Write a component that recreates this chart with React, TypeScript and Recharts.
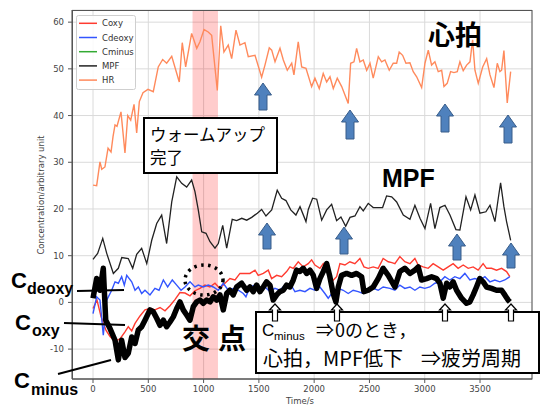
import { CartesianGrid, Line, LineChart, ReferenceArea, XAxis, YAxis } from "recharts";

// HR (heart rate), sampled roughly every 30 s
const hrTime = [0, 33, 63, 79, 108, 136, 163, 181, 199, 217, 253, 289, 314, 341, 371, 395, 419, 452, 497, 545, 590, 630, 666, 712, 780, 807, 838, 892, 938, 967, 1004, 1042, 1073, 1124, 1155, 1184, 1223, 1254, 1293, 1329, 1374, 1404, 1465, 1525, 1555, 1594, 1616, 1646, 1691, 1721, 1757, 1797, 1817, 1856, 1887, 1926, 1977, 2007, 2046, 2082, 2113, 2143, 2173, 2209, 2249, 2308, 2330, 2360, 2384, 2414, 2444, 2475, 2505, 2534, 2580, 2610, 2640, 2679, 2715, 2746, 2769, 2800, 2830, 2866, 2896, 2927, 2972, 3002, 3032, 3062, 3092, 3122, 3153, 3174, 3203, 3234, 3264, 3294, 3318, 3348, 3379, 3409, 3433, 3454, 3484, 3524, 3560, 3590, 3626, 3656, 3680, 3695, 3716, 3746, 3777];
const hrValue = [25.1, 25.0, 30.1, 28.5, 29.0, 33.0, 32.2, 35.5, 38.0, 37.7, 40.8, 32.0, 40.0, 39.0, 42.4, 36.3, 43.0, 44.9, 45.6, 45.1, 50.4, 52.0, 51.2, 52.7, 47.2, 55.6, 50.4, 57.6, 54.4, 55.8, 58.4, 57.9, 57.2, 45.4, 59.2, 53.6, 55.1, 52.2, 58.3, 55.1, 55.6, 52.6, 52.9, 48.2, 50.8, 54.5, 54.0, 51.5, 54.4, 51.9, 49.7, 51.2, 48.7, 55.8, 50.4, 50.1, 46.2, 48.0, 45.8, 49.0, 47.2, 48.3, 45.8, 48.0, 46.2, 42.6, 51.2, 51.5, 54.4, 51.5, 51.9, 49.7, 51.2, 48.0, 52.6, 51.5, 51.9, 49.7, 51.2, 51.2, 53.6, 52.9, 51.2, 51.3, 49.4, 48.3, 46.0, 51.2, 54.0, 50.8, 51.5, 49.4, 49.7, 46.2, 46.9, 49.4, 49.2, 49.4, 51.5, 49.6, 50.8, 51.5, 56.2, 49.7, 46.9, 50.4, 52.2, 48.7, 46.0, 51.2, 49.4, 49.7, 53.9, 42.7, 49.4];

// MPF (mean power frequency)
const mpfTime = [0, 42, 88, 124, 184, 229, 260, 319, 359, 395, 440, 486, 531, 576, 621, 666, 712, 757, 802, 847, 892, 922, 952, 983, 1022, 1058, 1103, 1133, 1173, 1209, 1259, 1299, 1345, 1390, 1435, 1486, 1525, 1564, 1616, 1666, 1706, 1745, 1788, 1835, 1872, 1926, 1947, 1986, 2023, 2068, 2113, 2158, 2203, 2242, 2285, 2324, 2369, 2414, 2444, 2489, 2534, 2580, 2619, 2655, 2701, 2746, 2806, 2866, 2911, 2957, 3002, 3053, 3092, 3137, 3183, 3228, 3282, 3318, 3373, 3415, 3454, 3499, 3553, 3590, 3635, 3665, 3686, 3716, 3740, 3777];
const mpfValue = [9.2, 10.5, 13.7, 10.5, 6.2, 7.3, 9.6, 9.4, 7.3, 10.3, 11.6, 8.3, 13.3, 16.9, 18.7, 12.6, 21.5, 26.9, 25.5, 24.7, 26.2, 23.7, 19.8, 15.1, 14.8, 13.0, 11.6, 12.6, 16.5, 11.6, 17.8, 17.5, 18.0, 17.6, 18.2, 19.1, 19.9, 18.5, 19.8, 24.0, 22.3, 21.8, 19.8, 18.7, 20.5, 17.3, 19.9, 22.3, 22.1, 17.6, 19.8, 21.0, 17.5, 18.3, 16.3, 18.2, 18.5, 20.5, 19.6, 21.2, 20.3, 20.3, 20.3, 22.8, 22.6, 21.5, 18.7, 17.8, 20.8, 18.0, 15.8, 21.2, 15.8, 20.3, 20.8, 18.7, 15.6, 15.5, 22.6, 19.8, 23.0, 19.1, 19.4, 20.8, 17.3, 22.3, 25.6, 20.5, 17.3, 13.3];

// Cdeoxy
const deoxyTime = [0, 33, 63, 93, 124, 169, 199, 229, 259, 283, 305, 350, 380, 410, 440, 470, 515, 560, 597, 636, 675, 717, 757, 796, 832, 877, 922, 952, 997, 1042, 1088, 1133, 1178, 1223, 1268, 1314, 1359, 1383, 1419, 1465, 1510, 1555, 1600, 1645, 1690, 1736, 1781, 1826, 1871, 1917, 1962, 2007, 2052, 2097, 2127, 2172, 2218, 2263, 2308, 2353, 2398, 2444, 2489, 2534, 2579, 2624, 2685, 2730, 2775, 2820, 2866, 2911, 2956, 3001, 3046, 3092, 3137, 3182, 3227, 3272, 3318, 3363, 3408, 3453, 3498, 3544, 3589, 3634, 3679, 3724, 3769];
const deoxyValue = [-2.4, 1.2, 0.5, -7.0, 0.5, 2.6, 4.4, 4.1, 5.5, 3.7, 5.8, 4.4, 2.6, 3.3, 1.9, 2.6, 1.6, 3.0, 2.6, 4.8, 3.3, 4.8, 3.7, 2.6, 3.3, 4.4, 3.3, 3.7, 3.3, 3.7, 3.3, 2.6, 4.1, 2.6, 3.0, 2.6, 1.9, 1.2, 3.3, 3.7, 2.6, 3.3, 2.3, 3.0, 2.6, 3.7, 4.1, 2.3, 2.6, 2.3, 3.0, 2.6, 3.3, 1.9, 0.9, 2.3, 3.0, 2.6, 1.9, 2.6, 2.3, 1.9, 2.6, 3.0, 2.6, 3.3, 3.0, 2.6, 3.7, 3.0, 3.3, 2.6, 3.3, 3.0, 3.3, 4.1, 4.4, 5.5, 4.8, 5.5, 5.1, 6.2, 4.8, 5.1, 4.8, 5.5, 4.4, 4.8, 4.4, 4.8, 5.5];

// Coxy
const oxyTime = [0, 36, 72, 118, 154, 199, 244, 289, 319, 350, 380, 425, 470, 515, 560, 606, 651, 696, 741, 786, 832, 877, 922, 967, 1012, 1057, 1103, 1148, 1193, 1238, 1284, 1329, 1374, 1419, 1465, 1494, 1540, 1585, 1615, 1661, 1706, 1751, 1781, 1811, 1856, 1901, 1946, 1977, 2007, 2052, 2082, 2113, 2158, 2203, 2233, 2278, 2323, 2368, 2414, 2450, 2489, 2534, 2579, 2624, 2670, 2703, 2730, 2775, 2820, 2866, 2911, 2941, 2986, 3031, 3076, 3122, 3167, 3212, 3257, 3302, 3348, 3393, 3438, 3483, 3528, 3559, 3604, 3649, 3695, 3740, 3770];
const oxyValue = [-1.3, 0.5, -3.0, -6.0, -7.3, -8.3, -7.8, -6.3, -5.2, -6.1, -4.5, -2.9, -1.6, -1.3, -1.6, -1.1, -1.8, -0.7, 0.6, 2.1, 2.0, 1.4, 2.5, 3.0, 3.7, 3.3, 4.1, 3.0, 4.1, 5.1, 4.8, 6.2, 6.2, 6.2, 6.9, 5.8, 6.2, 6.9, 5.1, 5.8, 5.5, 6.6, 7.6, 7.3, 8.7, 7.6, 8.3, 9.1, 8.0, 7.3, 8.3, 6.9, 4.4, 5.5, 8.3, 8.0, 8.7, 8.3, 9.4, 7.6, 7.3, 7.6, 7.3, 9.4, 8.7, 8.5, 8.3, 9.8, 8.7, 8.3, 9.4, 8.0, 7.6, 7.3, 8.3, 7.6, 6.9, 7.6, 8.3, 7.3, 8.0, 7.3, 7.6, 6.9, 8.3, 7.3, 7.3, 6.9, 7.3, 6.6, 5.5];

// Cminus (traced over with a thick black pen in the source figure)
const minusTime = [0, 33, 63, 93, 115, 154, 199, 229, 259, 289, 319, 350, 380, 410, 440, 470, 515, 545, 576, 606, 636, 666, 696, 726, 757, 786, 816, 847, 877, 907, 937, 967, 997, 1028, 1058, 1088, 1118, 1148, 1178, 1209, 1238, 1268, 1299, 1344, 1389, 1419, 1449, 1480, 1510, 1540, 1570, 1600, 1630, 1661, 1690, 1720, 1751, 1781, 1811, 1841, 1871, 1901, 1932, 1962, 1992, 2022, 2052, 2082, 2113, 2142, 2172, 2197, 2218, 2248, 2293, 2339, 2384, 2429, 2450, 2489, 2534, 2579, 2624, 2670, 2730, 2775, 2820, 2866, 2911, 2941, 2971, 3017, 3062, 3107, 3137, 3167, 3198, 3227, 3257, 3288, 3333, 3378, 3408, 3438, 3468, 3498, 3528, 3559, 3604, 3649, 3695, 3724, 3754, 3770];
const minusValue = [0.9, 5.1, 2.6, 7.3, -3.8, -5.6, -8.1, -12.3, -8.1, -11.8, -10.9, -7.4, -8.8, -5.9, -5.2, -3.8, -1.6, -2.0, -3.4, -4.9, -3.8, -5.2, -4.2, -3.1, -1.3, 0.1, -1.6, -2.7, -3.8, -0.9, 0.1, 0.5, -0.2, 0.5, 0.1, 1.2, 0.5, 1.6, -1.6, 1.9, 2.6, 1.6, 3.3, 4.1, 2.6, 3.3, 2.3, 3.7, 2.3, 3.3, 4.4, 3.7, 0.5, 1.6, 2.3, 2.6, 3.7, 3.3, 4.8, 6.9, 6.6, 7.3, 6.2, 6.9, 5.8, 3.0, 5.1, 6.6, 8.3, 5.5, 1.9, 0.1, 3.3, 5.8, 6.2, 5.8, 6.2, 5.5, 2.3, 2.6, 3.3, 5.1, 7.3, 5.8, 3.3, 6.6, 7.3, 6.2, 6.9, 7.6, 4.8, 5.1, 5.5, 5.1, 4.1, 0.9, 4.1, 3.3, 4.4, 2.6, 0.9, -0.2, 0.1, 1.6, 3.3, 5.1, 4.4, 3.3, 3.0, 2.6, 2.6, 1.6, 0.5, 0.1];

const xTicks = [0, 500, 1000, 1500, 2000, 2500, 3000, 3500];
const yTicks = [-10, 0, 10, 20, 30, 40, 50, 60];
const warmup = [900, 1130];

const legendItems = [
  { name: "Coxy", color: "#ff3b30" },
  { name: "Cdeoxy", color: "#3355ff" },
  { name: "Cminus", color: "#33aa33" },
  { name: "MPF", color: "#222222" },
  { name: "HR", color: "#ff8a5c" },
];

const zip = (ts: number[], vs: number[]) => ts.map((t, i) => ({ t, v: vs[i] }));

const tickStyle = { fontSize: 8.5, fill: "#444", fontFamily: "DejaVu Sans" };
const jp = "'Noto Sans CJK JP', sans-serif";
const latinBold = "'Liberation Sans', Arial, sans-serif";

const upArrow = (cx: number, top: number, bottom: number, headW: number, shaftW: number, headH: number) =>
  `M${cx},${top} L${cx + headW / 2},${top + headH} L${cx + shaftW / 2},${top + headH} L${cx + shaftW / 2},${bottom} ` +
  `L${cx - shaftW / 2},${bottom} L${cx - shaftW / 2},${top + headH} L${cx - headW / 2},${top + headH} Z`;

const blueArrows = [
  [263, 83, 110], [350, 110, 139], [445, 104, 132], [508, 115, 143],
  [267, 223, 249], [344, 227, 254], [457, 234, 260], [511, 243, 268],
];
const whiteArrows = [275, 337, 445, 511];

function Overlay() {
  return (
    <svg width={541} height={409} style={{ position: "absolute", left: 0, top: 0, pointerEvents: "none" }}>
      {/* axes frame */}
      <rect x={72.5} y={10.5} width={459.5} height={368.5} fill="none" stroke="#555" strokeWidth={1} />

      {/* legend */}
      <rect x={76.5} y={15.5} width={59} height={74} rx={2} fill="#fff" fillOpacity={0.85} stroke="#cfcfcf" />
      {legendItems.map((item, i) => (
        <g key={item.name}>
          <line x1={79} x2={97} y1={23.3 + i * 14.2} y2={23.3 + i * 14.2} stroke={item.color} strokeWidth={1.5} />
          <text x={102} y={26.3 + i * 14.2} fontSize={8.5} fontFamily="DejaVu Sans" fill="#333">
            {item.name}
          </text>
        </g>
      ))}

      {/* axis titles */}
      <text x={300} y={404} textAnchor="middle" fontSize={8.5} fontFamily="DejaVu Sans" fill="#444">
        Time/s
      </text>
      <text x={44} y={195} transform="rotate(-90 44 195)" textAnchor="middle" fontSize={8.5} fontFamily="DejaVu Sans" fill="#444">
        Concentration/arbitrary unit
      </text>

      {/* big labels */}
      <text x={428} y={45} fontSize={27} fontWeight={700} fontFamily={jp} fill="#000">心拍</text>
      <text x={382} y={187} fontSize={25} fontWeight={700} fontFamily={latinBold} fill="#000">MPF</text>
      <text x={182} y={349} fontSize={28} fontWeight={700} fontFamily={jp} letterSpacing={8} fill="#000">交点</text>

      {/* warm-up box */}
      <rect x={144} y={118} width={133} height={55} fill="#fff" stroke="#000" strokeWidth={2} />
      <text x={150} y={141} fontSize={16.5} fontFamily={jp} fill="#000">ウォームアップ</text>
      <text x={150} y={164} fontSize={16.5} fontFamily={jp} fill="#000">完了</text>

      {/* series labels with pointers */}
      <line x1={77} y1={291} x2={124} y2={290} stroke="#000" strokeWidth={2} />
      <line x1={64} y1={323} x2={125} y2={325} stroke="#000" strokeWidth={2} />
      <line x1={58} y1={374} x2={111} y2={360} stroke="#000" strokeWidth={2} />
      <text x={11} y={288} fontSize={22} fontWeight={700} fontFamily={latinBold} fill="#000">C</text>
      <text x={27} y={294} fontSize={16} fontWeight={700} fontFamily={latinBold} fill="#000">deoxy</text>
      <text x={15} y={330} fontSize={22} fontWeight={700} fontFamily={latinBold} fill="#000">C</text>
      <text x={32} y={336} fontSize={16} fontWeight={700} fontFamily={latinBold} fill="#000">oxy</text>
      <text x={14} y={388} fontSize={22} fontWeight={700} fontFamily={latinBold} fill="#000">C</text>
      <text x={31} y={395} fontSize={16} fontWeight={700} fontFamily={latinBold} fill="#000">minus</text>

      {/* dotted circle at crossing */}
      <ellipse cx={204} cy={280} rx={19} ry={15} fill="none" stroke="#000" strokeWidth={3.5} strokeDasharray="2.5 4.5" />

      {/* conclusion box */}
      <rect x={256} y={312} width={283} height={61} fill="#fff" stroke="#000" strokeWidth={2} />
      <text x={262} y={336} fontSize={17} fontFamily="'Liberation Sans', sans-serif" fill="#000">C</text>
      <text x={274} y={340} fontSize={11.5} fontFamily="'Liberation Sans', sans-serif" fill="#000">minus</text>
      <text x={316} y={337} fontSize={18} fontFamily={jp} fill="#000">⇒</text>
      <text x={335} y={337} fontSize={18} fontFamily={jp} fill="#000">0のとき，</text>
      <text x={263} y={366} fontSize={20} fontFamily={jp} fill="#000">心拍，MPF低下</text>
      <text x={421} y={366} fontSize={20} fontFamily={jp} fill="#000">⇒疲労周期</text>

      {whiteArrows.map((cx) => (
        <path key={cx} d={upArrow(cx, 304, 321, 11, 5, 6)} fill="#fff" stroke="#000" strokeWidth={1.2} />
      ))}
      {blueArrows.map(([cx, top, bottom]) => (
        <path key={`${cx}-${top}`} d={upArrow(cx, top, bottom, 17, 8, 12)} fill="#4f81bd" stroke="#385d8a" strokeWidth={1} />
      ))}
    </svg>
  );
}

export default function App() {
  return (
    <div style={{ position: "absolute", left: 0, top: 0, width: 541, height: 409, background: "#fff" }}>
      <LineChart width={541} height={409} margin={{ top: 10, right: 9, bottom: 0, left: 0 }}>
        <CartesianGrid stroke="#dadada" strokeWidth={1} />
        <XAxis
          type="number"
          dataKey="t"
          domain={[-190, 3970]}
          ticks={xTicks}
          allowDataOverflow
          height={30}
          tick={tickStyle}
          tickSize={4}
          tickMargin={3}
          stroke="#555"
        />
        <YAxis
          type="number"
          domain={[-16.4, 62.6]}
          ticks={yTicks}
          allowDataOverflow
          width={72}
          tick={tickStyle}
          tickSize={4}
          tickMargin={4}
          stroke="#555"
        />
        <ReferenceArea x1={warmup[0]} x2={warmup[1]} fill="#ff0000" fillOpacity={0.2} stroke="none" ifOverflow="hidden" />
        <Line data={zip(hrTime, hrValue)} dataKey="v" name="HR" stroke="#ff8a5c" strokeWidth={1.4} dot={false} isAnimationActive={false} />
        <Line data={zip(mpfTime, mpfValue)} dataKey="v" name="MPF" stroke="#222" strokeWidth={1.3} dot={false} isAnimationActive={false} />
        <Line data={zip(oxyTime, oxyValue)} dataKey="v" name="Coxy" stroke="#ff3b30" strokeWidth={1.4} dot={false} isAnimationActive={false} />
        <Line data={zip(deoxyTime, deoxyValue)} dataKey="v" name="Cdeoxy" stroke="#3355ff" strokeWidth={1.4} dot={false} isAnimationActive={false} />
        <Line data={zip(minusTime, minusValue)} dataKey="v" name="Cminus" stroke="#000" strokeWidth={5.5} strokeLinejoin="round" dot={false} isAnimationActive={false} />
      </LineChart>
      <Overlay />
    </div>
  );
}
